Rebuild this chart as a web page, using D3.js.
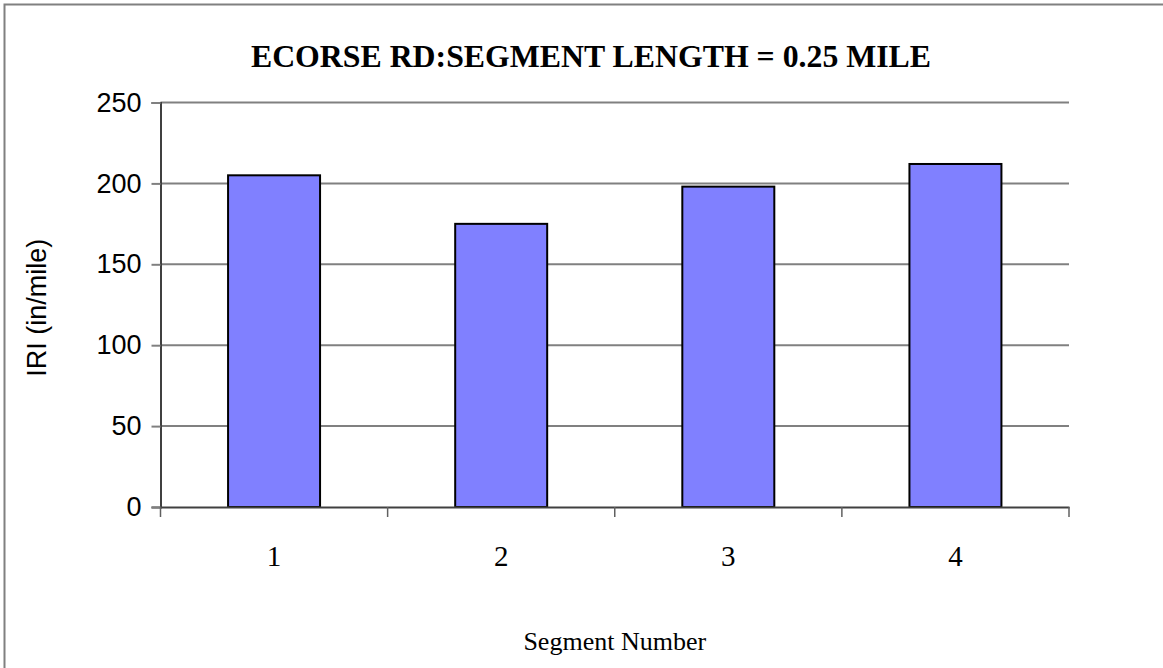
<!DOCTYPE html>
<html><head><meta charset="utf-8">
<script src="https://cdn.jsdelivr.net/npm/d3@7"></script>
<style>body{margin:0;background:#fff}svg{display:block}</style>
</head><body>
<svg id="c" width="1163" height="668"></svg>
<script>
const categories = ["1","2","3","4"];
const values = [205, 175, 198, 212];
const yTicks = [0,50,100,150,200,250];
const title = "ECORSE RD:SEGMENT LENGTH = 0.25 MILE";
const xTitle = "Segment Number";
const yTitle = "IRI (in/mile)";

const svg = d3.select("#c");
const W = 1163, H = 668;
const m = {left:160.5, right:1069, top:102.5, bottom:507};

svg.append("rect").attr("x",4.5).attr("y",4.5).attr("width",W+20).attr("height",H+20)
  .attr("fill","#fff").attr("stroke","#808080").attr("stroke-width",2);

const x = d3.scaleBand().domain(categories).range([m.left,m.right]).paddingInner(0.595).paddingOuter(0.2975);
const xb = d3.scaleBand().domain(categories).range([m.left,m.right]);
const y = d3.scaleLinear().domain([0,250]).range([m.bottom,m.top]);

// gridlines
svg.append("g").selectAll("line").data(yTicks.filter(d=>d>0)).join("line")
  .attr("x1",m.left).attr("x2",m.right).attr("y1",d=>y(d)).attr("y2",d=>y(d))
  .attr("stroke","#808080").attr("stroke-width",2);

// bars
svg.append("g").selectAll("rect").data(values).join("rect")
  .attr("x",(d,i)=>x(categories[i])).attr("width",x.bandwidth())
  .attr("y",d=>y(d)).attr("height",d=>y(0)-y(d))
  .attr("fill","#8080FF").attr("stroke","#000").attr("stroke-width",2);

// y axis
const ya = svg.append("g").attr("transform",`translate(${m.left},0)`)
  .call(d3.axisLeft(y).tickValues(yTicks).tickSize(9).tickPadding(10));
ya.select(".domain").attr("stroke","#404040").attr("stroke-width",2);
ya.selectAll(".tick line").attr("stroke","#808080").attr("stroke-width",2);
ya.selectAll("text").attr("font-family","Liberation Sans, Arial, sans-serif").attr("font-size",27).attr("fill","#000");

// x axis
const xa = svg.append("g").attr("transform",`translate(0,${m.bottom})`)
  .call(d3.axisBottom(xb).tickSize(0).tickPadding(0));
xa.select(".domain").attr("stroke","#404040").attr("stroke-width",2);
xa.selectAll(".tick text").attr("font-family","Liberation Serif, Times New Roman, serif")
  .attr("font-size",29).attr("fill","#000").attr("dy",null).attr("y",59);
// category boundary ticks
const bounds = categories.map(c=>xb(c)).concat([m.right]);
svg.append("g").selectAll("line").data(bounds).join("line")
  .attr("x1",d=>d).attr("x2",d=>d).attr("y1",m.bottom).attr("y2",m.bottom+10)
  .attr("stroke","#606060").attr("stroke-width",1.5);

svg.append("text").attr("x",591).attr("y",67).attr("text-anchor","middle")
  .attr("font-family","Liberation Serif, Times New Roman, serif").attr("font-weight","bold")
  .attr("font-size",31.8).text(title);
svg.append("text").attr("x",(m.left+m.right)/2).attr("y",650).attr("text-anchor","middle")
  .attr("font-family","Liberation Serif, Times New Roman, serif").attr("font-size",26).text(xTitle);
svg.append("text").attr("transform",`translate(46,${(m.top+m.bottom)/2+3}) rotate(-90)`).attr("text-anchor","middle")
  .attr("font-family","Liberation Sans, Arial, sans-serif").attr("font-size",27).text(yTitle);
</script>
</body></html>
